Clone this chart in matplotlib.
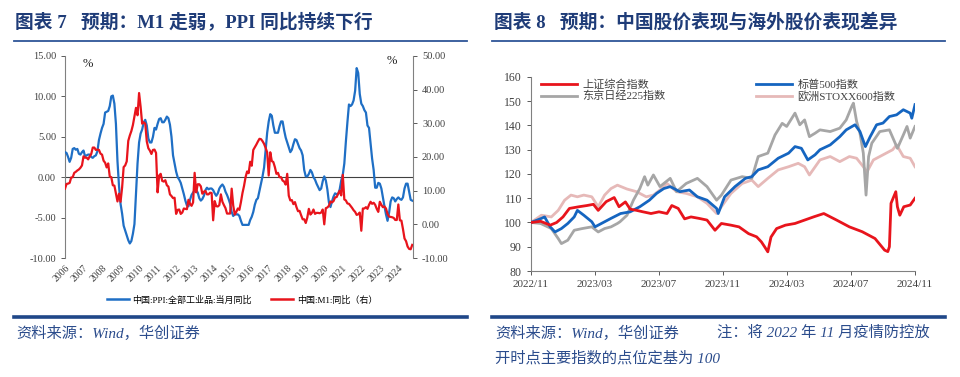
import numpy as np
import matplotlib
matplotlib.use('Agg')
import matplotlib.pyplot as plt
from matplotlib.lines import Line2D

CJK = ['Liberation Serif', 'Noto Sans CJK SC']
plt.rcParams['font.family'] = CJK

# ---- 图表7 数据: 2006-01 起的月度数据 ----
ppi = [3.1, 3.0, 2.5, 1.9, 2.4, 3.5, 3.6, 3.4, 3.5, 2.9, 2.8, 3.1,
       3.3, 2.6, 2.7, 2.8, 2.8, 2.5, 2.4, 2.6, 2.7, 3.2, 4.6, 5.4,
       6.1, 6.6, 8.0, 8.1, 8.2, 8.8, 10.0, 10.1, 9.1, 6.6, 2.0, -1.1,
       -3.3, -4.5, -6.0, -6.6, -7.2, -7.8, -8.2, -7.9, -7.0, -5.8, -2.1, 1.7,
       4.3, 5.4, 5.9, 6.8, 7.1, 6.4, 4.8, 4.3, 4.3, 5.0, 6.1, 5.9,
       6.6, 7.2, 7.3, 6.8, 6.8, 7.1, 7.5, 7.3, 6.5, 5.0, 2.7, 1.7,
       0.7, 0.0, -0.3, -0.7, -1.4, -2.1, -2.9, -3.5, -3.6, -2.8, -2.2, -1.9,
       -1.6, -1.6, -1.9, -2.6, -2.9, -2.7, -2.3, -1.6, -1.3, -1.5, -1.4, -1.4,
       -1.6, -2.0, -2.3, -2.0, -1.4, -1.1, -0.9, -1.2, -1.8, -2.2, -2.7, -3.3,
       -4.3, -4.8, -4.6, -4.6, -4.6, -4.8, -5.4, -5.9, -5.9, -5.9, -5.9, -5.9,
       -5.3, -4.9, -4.3, -3.4, -2.8, -2.6, -1.7, -0.8, 0.1, 1.2, 3.3, 5.5,
       6.9, 7.8, 7.6, 6.4, 5.5, 5.5, 5.5, 6.3, 6.9, 6.9, 5.8, 4.9,
       4.3, 3.7, 3.1, 3.4, 4.1, 4.7, 4.6, 4.1, 3.6, 3.3, 2.7, 0.9,
       0.1, 0.1, 0.4, 0.9, 0.6, 0.0, -0.3, -0.8, -1.2, -1.6, -1.4, -0.5,
       0.1, -0.4, -1.5, -3.1, -3.7, -3.0, -2.4, -2.0, -2.1, -2.1, -1.5, -0.4,
       0.3, 1.7, 4.4, 6.8, 9.0, 8.8, 9.0, 9.5, 10.7, 13.5, 12.9, 10.3,
       9.1, 8.8, 8.3, 8.0, 6.4, 6.1, 4.2, 2.3, 0.9, -1.3, -1.3, -0.7,
       -0.8, -1.4, -2.5, -3.6, -4.6, -5.4, -4.4, -3.0, -2.5, -2.6, -3.0, -2.7,
       -2.5, -2.7, -2.8, -2.5, -1.4, -0.8, -0.8, -1.8, -2.8, -2.9]
m1 = [10.6, 12.0, 12.1, 12.3, 13.9, 14.0, 15.3, 15.6, 16.0, 16.3, 16.8, 17.5,
      20.2, 19.8, 19.8, 19.3, 20.2, 20.9, 22.8, 22.8, 22.1, 22.2, 22.1, 21.0,
      20.7, 18.9, 18.3, 16.9, 18.1, 14.2, 14.0, 11.6, 11.5, 9.1, 6.8, 9.1,
      6.7, 10.9, 17.0, 17.5, 18.7, 24.8, 26.4, 27.7, 29.5, 32.0, 34.6, 32.4,
      39.0, 34.9, 29.9, 30.3, 29.9, 24.6, 22.6, 21.9, 20.9, 22.1, 22.2, 21.2,
      9.5, 14.5, 15.0, 12.9, 12.7, 13.1, 11.6, 11.2, 8.9, 8.4, 7.8, 7.9,
      3.1, 4.3, 4.4, 3.1, 3.5, 4.7, 4.6, 4.5, 7.3, 6.1, 5.5, 6.5,
      15.3, 9.5, 11.9, 11.9, 11.3, 9.1, 9.7, 9.9, 8.9, 8.9, 9.4, 9.3,
      1.2, 6.9, 5.4, 5.3, 5.7, 8.9, 6.7, 5.7, 4.8, 3.2, 3.2, 3.2,
      10.6, 5.6, 2.9, 3.7, 4.7, 4.3, 6.6, 9.3, 11.4, 14.0, 15.7, 15.2,
      18.6, 17.4, 22.1, 22.9, 23.7, 24.6, 25.4, 25.3, 24.7, 23.9, 22.7, 21.4,
      14.5, 21.4, 18.8, 18.5, 17.0, 15.0, 15.3, 14.0, 14.0, 13.0, 12.7, 11.8,
      15.0, 8.5, 7.1, 7.2, 6.0, 6.6, 5.1, 3.9, 4.0, 2.7, 1.5, 1.5,
      0.4, 2.0, 4.6, 2.9, 3.4, 4.4, 3.1, 3.4, 3.4, 3.3, 3.5, 4.4,
      0.0, 4.8, 5.0, 5.5, 6.8, 6.5, 6.9, 8.0, 8.1, 9.1, 10.0, 8.6,
      14.7, 7.4, 7.1, 6.2, 6.1, 5.5, 4.9, 4.2, 3.7, 2.8, 3.0, 3.5,
      -1.9, 4.7, 4.7, 5.1, 4.6, 5.8, 6.7, 6.1, 6.4, 5.8, 4.6, 3.7,
      6.7, 5.8, 5.1, 5.3, 4.7, 3.1, 2.3, 2.2, 2.1, 1.9, 1.3, 1.3,
      5.9, 1.2, 1.1, -1.4, -4.2, -5.0, -6.6, -7.3, -7.4, -6.1]
years = list(range(2006, 2025))

# ---- 图表8 数据: 以 2022/11 为 0 的月份, 点位定基 100 ----
sse_t = [0, 0.6, 1.2, 1.6, 2.0, 2.4, 3.0, 3.5, 3.9, 4.2, 4.7, 5.2, 5.5, 5.9, 6.2, 6.6, 7.0, 7.5, 8.0, 8.5,
         8.8, 9.2, 9.6, 10.0, 10.5, 11.0, 11.5, 11.9, 12.5, 13.0, 13.6, 14.1, 14.4, 14.6, 14.8, 15.0,
         15.35, 15.9, 16.5, 17.1, 17.7, 18.3, 19.1, 19.9, 20.7, 21.5, 22.1, 22.3, 22.4, 22.5, 22.8,
         22.9, 23.05, 23.3, 23.7, 24]
sse_v = [100, 100.5, 98.9, 100, 102.3, 105.8, 106.5, 107, 107.5, 105, 108.6, 110.3, 106.5, 108.5, 105.5,
         105, 104.4, 103.7, 104.4, 103.7, 107, 105.8, 101.5, 102.3, 101.7, 101, 96.8, 99.6, 98.9, 98.2,
         95.4, 94.1, 92, 90, 87.9, 94, 97.5, 98.9, 99.6, 101, 102.4, 103.7, 101, 98.2, 96.2, 93.4, 88.6,
         88, 90, 107.9, 112.7, 106.5, 103, 106.5, 107.2, 110]
nk_t = [0, 0.6, 1.27, 1.7, 1.9, 2.3, 2.7, 3.2, 3.8, 4.2, 4.6, 5.0, 5.4, 5.56, 6.0, 6.4, 6.8, 7.1, 7.3, 7.65,
        8.06, 8.7, 9.1, 9.7, 10.4, 11.0, 11.6, 11.9, 12.5, 13.2, 13.8, 14.2, 14.8, 15.25, 15.7, 15.98,
        16.5, 16.8, 17.1, 17.4, 17.75, 18.06, 18.7, 19.3, 19.7, 20.05, 20.15, 20.35, 20.56, 20.77, 20.94,
        21.1, 21.3, 21.8, 22.4, 22.9, 23.27, 23.5, 23.7, 24]
nk_v = [100, 99.6, 97.5, 93.4, 91.3, 92.7, 96.8, 97.5, 98.2, 96.1, 97.5, 98.2, 99.6, 100.3, 103, 109.2,
        114, 118.9, 115.4, 119.6, 114.8, 118.2, 112.7, 116.1, 118.2, 114.8, 109.2, 111.3, 117.5, 118.9,
        118.2, 127.2, 128.6, 136.1, 140.9, 139.6, 145.1, 140.3, 142.3, 135.4, 136.8, 138.2, 137.5, 138.9,
        142.3, 147.9, 149.2, 141.7, 136.8, 128.6, 111.3, 127.2, 132.7, 137.5, 138.2, 130.6, 136.1, 139.6,
        134.8, 139.6]
sp_t = [0, 0.65, 0.85, 1.2, 1.5, 1.9, 2.3, 2.7, 2.9, 3.3, 3.8, 4.0, 4.4, 5.0, 5.6, 6.2, 6.8, 7.4, 7.85, 8.3,
        8.7, 9.3, 9.9, 10.4, 11.0, 11.6, 11.7, 12.1, 12.75, 13.4, 13.8, 14.2, 14.8, 15.45, 16.1, 16.5,
        16.9, 17.3, 17.75, 18.06, 18.7, 19.3, 19.7, 20.25, 20.56, 20.9, 21.2, 21.6, 22.0, 22.4, 22.85,
        23.27, 23.7, 23.8, 24]
sp_v = [100, 101.7, 102.3, 98.2, 96.1, 97.5, 99.6, 102.3, 105, 103, 100.3, 98.2, 99.6, 101.7, 103.7,
        104.4, 106.5, 109.2, 112, 114, 114.8, 112.7, 113.4, 110.6, 109.2, 105.8, 103.7, 110.6, 114.8,
        118.2, 118.9, 121.7, 123, 126.5, 128.6, 131.3, 130.6, 125.8, 127.9, 130, 132, 135.4, 138.2,
        140.3, 137.5, 131.3, 135.4, 140.3, 141, 143.7, 144.4, 146.5, 145.1, 143, 148.6]
sx_t = [0, 0.65, 1.27, 1.7, 2.1, 2.5, 2.9, 3.3, 3.8, 4.2, 4.6, 5.0, 5.4, 6.0, 6.6, 7.2, 7.65, 8.06, 8.5, 9.1,
        9.7, 10.4, 11.0, 11.6, 11.9, 12.5, 13.2, 13.8, 14.2, 14.8, 15.45, 16.1, 16.7, 17.1, 17.4, 18.06,
        18.7, 19.3, 19.9, 20.35, 20.77, 21.0, 21.4, 22.0, 22.6, 22.85, 23.27, 23.7, 24]
sx_v = [100, 103, 102.3, 105, 109.2, 111.3, 110.6, 111.3, 110.6, 106.5, 111.3, 114, 115.4, 113.8, 112.7,
        110.6, 111.3, 113.4, 116.1, 112.7, 112, 110.6, 107.9, 103.7, 106.5, 112, 116.1, 117.5, 114.8,
        118.2, 121.7, 123, 124.4, 123, 119.6, 125.8, 127.2, 125.1, 127.2, 126.5, 123, 120.9, 125.8,
        127.9, 130, 132, 127.2, 126.5, 123]
month_ticks = [0, 4, 8, 12, 16, 20, 24]
month_labels = ['2022/11', '2023/03', '2023/07', '2023/11', '2024/03', '2024/07', '2024/11']

W, H = 960, 377
NAVY = '#1F3C78'
BLUE = '#1F6FC5'
RED = '#E8141C'


def fx(px):
    return px / W


def fy(py):
    return 1 - py / H


fig = plt.figure(figsize=(9.6, 3.77), dpi=100)

# 标题与分隔线
fig.text(fx(15), fy(22), '图表 7   预期：M1 走弱，PPI 同比持续下行', fontsize=13.5, fontweight='bold',
         color=NAVY, va='center', ha='left')
fig.text(fx(494), fy(22), '图表 8   预期：中国股价表现与海外股价表现差异', fontsize=13.5, fontweight='bold',
         color=NAVY, va='center', ha='left')
for x0, x1 in [(14, 467), (492, 945)]:
    fig.add_artist(Line2D([fx(x0), fx(x1)], [fy(41), fy(41)], color='#2E5597', lw=1.3))
    fig.add_artist(Line2D([fx(x0), fx(x1)], [fy(317), fy(317)], color='#1F4788', lw=2.6))

src_kw = dict(fontsize=11, color='#2B4C8C', style='italic', va='center', ha='left')
fig.text(fx(16), fy(333), '资料来源：Wind，华创证券', **src_kw)
fig.text(fx(495), fy(333), '资料来源：Wind，华创证券', **src_kw)
fig.text(fx(717), fy(333), '注：将 2022 年 11 月疫情防控放', **src_kw)
fig.text(fx(495), fy(358), '开时点主要指数的点位定基为 100', **src_kw)

# ---- 左图 ----
ax = fig.add_axes([fx(65), fy(258), fx(413) - fx(65), (258 - 56) / H])
t = 2006 + np.arange(len(ppi)) / 12
ax.plot(t, ppi, color=BLUE, lw=1.6, zorder=3)
ax.set_ylim(-10, 15)
ax.set_yticks(np.arange(-10, 16, 5))
ax.set_yticklabels(['%.2f' % v for v in np.arange(-10, 16, 5)])
ax.set_xlim(2006, 2006 + (len(ppi) - 0.5) / 12)
ax.axhline(0, color='#404040', lw=0.8, zorder=1)
ax2 = ax.twinx()
ax2.plot(t, m1, color=RED, lw=1.6, zorder=3)
ax2.set_ylim(-10, 50)
ax2.set_yticks(np.arange(-10, 51, 10))
ax2.set_yticklabels(['%.2f' % v for v in np.arange(-10, 51, 10)])
for a in (ax, ax2):
    a.spines['top'].set_visible(False)
    a.spines['bottom'].set_visible(False)
    a.spines['left'].set_color('#808080')
    a.spines['right'].set_color('#808080')
    a.tick_params(axis='y', labelsize=7.5, colors='#404040', length=3, width=0.6)
ax.spines['right'].set_visible(False)
ax2.spines['left'].set_visible(False)
ax.set_xticks(years)
ax.set_xticklabels([str(y) for y in years], rotation=45, ha='right', va='top', fontsize=7,
                   color='#404040', rotation_mode='anchor')
ax.tick_params(axis='x', length=0, pad=4)
ax.text(0.05, 0.96, '%', transform=ax.transAxes, fontsize=9, color='#222222', ha='left', va='center')
ax.text(0.955, 0.975, '%', transform=ax.transAxes, fontsize=9, color='#222222', ha='right', va='center')

hl = [Line2D([], [], color=BLUE, lw=1.8), Line2D([], [], color=RED, lw=1.8)]
fig.legend(hl, ['中国:PPI:全部工业品:当月同比', '中国:M1:同比（右）'], loc='center',
           bbox_to_anchor=(fx(242), fy(300)), ncol=2, frameon=False, fontsize=6.5,
           handlelength=2.4, columnspacing=2.2, handletextpad=0.4)

# ---- 右图 ----
bx = fig.add_axes([fx(531), fy(271), fx(915) - fx(531), (271 - 77) / H])
l1, = bx.plot(sse_t, sse_v, color=RED, lw=2.0, zorder=5)
l2, = bx.plot(nk_t, nk_v, color='#A6A6A6', lw=2.0, zorder=3)
l3, = bx.plot(sp_t, sp_v, color='#1565C0', lw=2.0, zorder=4)
l4, = bx.plot(sx_t, sx_v, color='#E6B9B8', lw=2.0, zorder=2)
bx.set_ylim(80, 160)
bx.set_yticks(range(80, 161, 10))
bx.set_xlim(0, 24)
bx.set_xticks(month_ticks)
bx.set_xticklabels(month_labels)
bx.spines['top'].set_visible(False)
bx.spines['right'].set_visible(False)
bx.spines['left'].set_color('#808080')
bx.spines['bottom'].set_color('#808080')
bx.tick_params(axis='y', labelsize=8.5, colors='#404040', length=3, width=0.6)
bx.tick_params(axis='x', labelsize=8, colors='#404040', length=3, width=0.6)
bx.legend([l1, l2, l3, l4], ['上证综合指数', '东京日经225指数', '标普500指数', '欧洲STOXX600指数'],
          loc='upper left', bbox_to_anchor=(0.0, 1.04), ncol=2, frameon=False, fontsize=8,
          handlelength=3.2, columnspacing=8.2, handletextpad=0.5, labelspacing=0.1,
          labelcolor='#404040')

fig.savefig('out.png', dpi=100)
